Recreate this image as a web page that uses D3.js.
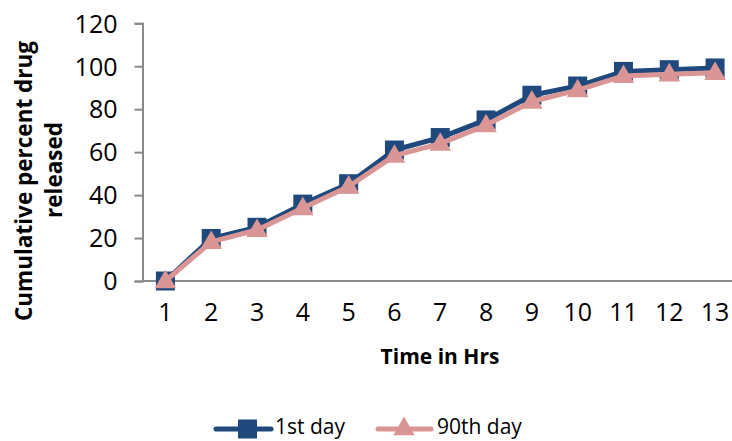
<!DOCTYPE html>
<html><head><meta charset="utf-8">
<script src="https://cdn.jsdelivr.net/npm/d3@7"></script>
<style>body{margin:0;background:#fff}svg{display:block}text{font-family:"Open Sans",sans-serif;fill:#000}</style>
</head><body>
<svg id="c" width="732" height="441"></svg>
<script>
const categories = ["1","2","3","4","5","6","7","8","9","10","11","12","13"];
const day1 = [0, 19.8, 25, 35.8, 45.3, 61, 66.8, 75, 86.5, 90.8, 97.6, 98.4, 99.2];
const day90 = [0, 18.2, 23.8, 34, 44, 58.4, 64, 72.6, 83.6, 88.9, 95.5, 96.3, 97];
const yTicks = [0, 20, 40, 60, 80, 100, 120];
const seriesNames = ["1st day", "90th day"];
const colors = ["#1F497D", "#D99694"];

const svg = d3.select("#c");
const x = d3.scaleBand().domain(categories).range([142.5, 738]);
const y = d3.scaleLinear().domain([0, 120]).range([281, 23.3]);
const axisColor = "#8a8a8a";

// Y axis
const ya = svg.append("g").attr("transform","translate(142.5,0)")
  .call(d3.axisLeft(y).tickValues(yTicks).tickSize(8).tickPadding(17));
ya.selectAll("path,line").attr("stroke", axisColor).attr("stroke-width", 2);
ya.selectAll("text").style("font-size","25px").style("font-family","'Open Sans',sans-serif").attr("fill","#000").attr("dy","0.35em");

// X axis
const xa = svg.append("g").attr("transform","translate(0,281)")
  .call(d3.axisBottom(x).tickSize(0).tickPadding(22));
xa.select("path").attr("stroke", axisColor).attr("stroke-width", 2).attr("d", "M142.5,0H732");
xa.selectAll("text").style("font-size","25px").style("font-family","'Open Sans',sans-serif").attr("fill","#000").attr("dy","0.71em");

// titles
svg.append("text").attr("x", 440).attr("y", 364).attr("text-anchor","middle")
  .style("font-size","21px").style("font-weight","bold").text("Time in Hrs");
const yt = svg.append("g");
yt.append("text").attr("transform","translate(32,181) rotate(-90)").attr("text-anchor","middle")
  .style("font-size","22.5px").style("font-weight","bold").text("Cumulative percent drug");
yt.append("text").attr("transform","translate(62,170) rotate(-90)").attr("text-anchor","middle")
  .style("font-size","22.5px").style("font-weight","bold").text("released");

const cx = d => x(d) + x.bandwidth()/2;
const line = d3.line().x((d,i)=>cx(categories[i])).y(d=>y(d));
const tri = d3.symbol().type(d3.symbolTriangle).size(200);

// series 1
svg.append("path").datum(day1).attr("d", line).attr("fill","none").attr("stroke", colors[0]).attr("stroke-width",5).attr("stroke-linejoin","round");
svg.append("g").selectAll("rect").data(day1).join("rect")
  .attr("x",(d,i)=>cx(categories[i])-9.5).attr("y",d=>y(d)-9.5).attr("width",19).attr("height",19).attr("fill",colors[0]);
// series 2
svg.append("path").datum(day90).attr("d", line).attr("fill","none").attr("stroke", colors[1]).attr("stroke-width",5).attr("stroke-linejoin","round");
svg.append("g").selectAll("path").data(day90).join("path")
  .attr("d", tri).attr("transform",(d,i)=>`translate(${cx(categories[i])},${y(d)+1})`).attr("fill",colors[1]);

// legend
const lg = svg.append("g");
lg.append("line").attr("x1",216).attr("x2",271).attr("y1",429).attr("y2",429).attr("stroke",colors[0]).attr("stroke-width",5).attr("stroke-linecap","round");
lg.append("rect").attr("x",238).attr("y",419.5).attr("width",19).attr("height",19).attr("fill",colors[0]);
lg.append("text").attr("x",275).attr("y",427).attr("dy","0.35em").style("font-size","21px").text(seriesNames[0]);
lg.append("line").attr("x1",378).attr("x2",431).attr("y1",429).attr("y2",429).attr("stroke",colors[1]).attr("stroke-width",5).attr("stroke-linecap","round");
lg.append("path").attr("d",tri).attr("transform","translate(404,429)").attr("fill",colors[1]);
lg.append("text").attr("x",437).attr("y",427).attr("dy","0.35em").style("font-size","21px").text(seriesNames[1]);
</script>
</body></html>
